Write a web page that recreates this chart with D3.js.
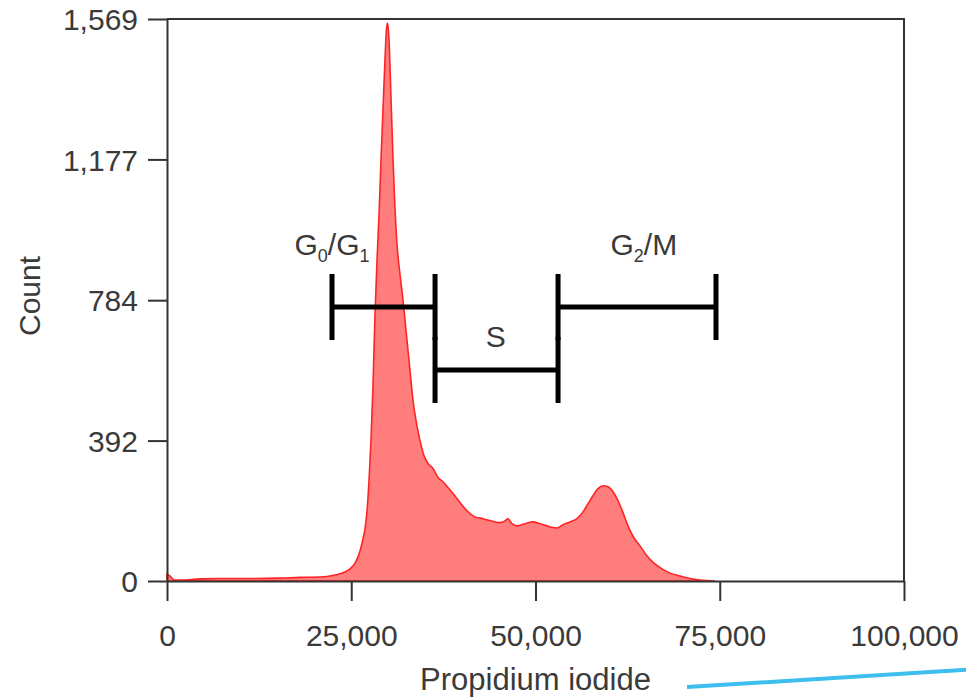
<!DOCTYPE html>
<html>
<head>
<meta charset="utf-8">
<script src="https://cdn.jsdelivr.net/npm/d3@7"></script>
<style>
    body { margin: 0; background: #fff; }
    svg { display: block; font-family: "Liberation Sans", Arial, sans-serif; }
</style>
</head>
<body>
<div id="histogram_container"></div>
<script>
// Propidium iodide channel (x) and event count (y)
const piValues = [0, 400, 950, 2440, 4480, 7190, 11260, 15330, 18050, 20760, 22800, 24150,
    24830, 25510, 26190, 26600, 26870, 27140, 27410, 27680, 27950, 28220, 28500, 28770,
    29040, 29310, 29580, 29780, 29920, 30120, 30400, 30670, 30940, 31210, 31620, 32020,
    32430, 32970, 33380, 33790, 34330, 34870, 35410, 36090, 36770, 37450, 38130, 38810,
    39760, 40710, 41790, 42880, 43960, 45180, 45860, 46270, 46810, 47490, 48580, 49660,
    50610, 51970, 52920, 53730, 54680, 55630, 56450, 57130, 57800, 58480, 59160, 59840,
    60520, 61200, 61870, 62550, 63370, 64180, 65130, 66080, 67170, 68250, 69610, 70970,
    72330, 74360];
const counts = [18, 14, 3, 3, 6, 7, 7, 8, 10, 11, 17, 25,
    34, 50, 84, 118, 146, 196, 280, 392, 546, 742, 897, 1023,
    1177, 1317, 1457, 1541, 1558, 1513, 1345, 1177, 1037, 939, 855, 785,
    700, 588, 504, 448, 392, 350, 328, 314, 289, 277, 261, 244,
    219, 196, 179, 174, 168, 163, 168, 174, 160, 154, 160, 165,
    160, 151, 148, 157, 165, 174, 193, 216, 238, 258, 266, 263,
    249, 224, 191, 154, 120, 98, 70, 50, 34, 22, 14, 7,
    3, 0];

const xTicks = [0, 25000, 50000, 75000, 100000];
const yTicks = [0, 392, 784, 1177, 1569];

// cell-cycle gates
const gateNames = ["G0/G1", "S", "G2/M"];
const gateStart = [22390, 36370, 53060];
const gateEnd = [36370, 53060, 74490];
const gateLevel = [765, 589, 765];
// where each gate label sits (x, y in data units)
const labelX = [22390, 44600, 64700];
const labelY = [910, 654, 910];

// the stray blue stroke at the bottom right, in data units
const strayLine = [[70560, -296], [109000, -247]];

const margin = { top: 19, right: 62, bottom: 118, left: 167 },
    width = 966 - margin.left - margin.right,
    height = 699 - margin.top - margin.bottom;

const svg = d3.select("#histogram_container")
    .append("svg")
    .attr("width", 966)
    .attr("height", 699)
    .append("g")
    .attr("transform", `translate(${margin.left}, ${margin.top})`);

const x = d3.scaleLinear().domain([0, 100000]).range([0, width]);
const y = d3.scaleLinear().domain([0, 1569]).range([height, 0]);

const data = piValues.map((v, i) => ({ pi: v, count: counts[i] }));

// histogram
svg.append("path")
    .datum(data)
    .attr("fill", "#ff7d7d")
    .attr("stroke", "#ff2424")
    .attr("stroke-width", 1.6)
    .attr("d", d3.area()
        .x(d => x(d.pi))
        .y0(y(0))
        .y1(d => y(d.count))
        .curve(d3.curveMonotoneX));

// frame: top and right
svg.append("path")
    .attr("fill", "none")
    .attr("stroke", "#333")
    .attr("stroke-width", 2)
    .attr("d", `M0,0H${width}V${height}`);

// X axis
const xAxis = svg.append("g")
    .attr("transform", `translate(0, ${height})`)
    .call(d3.axisBottom(x).tickValues(xTicks).tickFormat(d3.format(",")).tickSize(20).tickPadding(24).tickSizeOuter(0));

// Y axis
const yAxis = svg.append("g")
    .call(d3.axisLeft(y).tickValues(yTicks).tickFormat(d3.format(",")).tickSize(19).tickPadding(10).tickSizeOuter(0));

[xAxis, yAxis].forEach(a => {
    a.select(".domain").attr("stroke", "#333").attr("stroke-width", 2);
    a.selectAll(".tick line").attr("stroke", "#333").attr("stroke-width", 2);
    a.selectAll(".tick text")
        .attr("fill", "#3a3a3a")
        .style("font-size", "30px")
        .style("font-family", "'Liberation Sans', Arial, sans-serif");
});
yAxis.selectAll(".tick text").attr("dy", "0.36em");

// axis titles
svg.append("text")
    .attr("transform", `translate(${40 - margin.left}, ${296 - margin.top}) rotate(-90)`)
    .attr("text-anchor", "middle")
    .attr("fill", "#3a3a3a")
    .style("font-size", "30px")
    .text("Count");

svg.append("text")
    .attr("x", width / 2)
    .attr("y", 690 - margin.top)
    .attr("text-anchor", "middle")
    .attr("fill", "#3a3a3a")
    .style("font-size", "31px")
    .text("Propidium iodide");

// gates
const half = 33;
const gates = svg.append("g")
    .attr("stroke", "#000")
    .attr("stroke-width", 5)
    .attr("fill", "none");

gateNames.forEach((name, i) => {
    const x0 = x(gateStart[i]), x1 = x(gateEnd[i]), yy = y(gateLevel[i]);
    gates.append("path")
        .attr("d", `M${x0},${yy}H${x1}M${x0},${yy - half}V${yy + half}M${x1},${yy - half}V${yy + half}`);
});

// gate labels, with subscripts
const labels = svg.append("g")
    .attr("fill", "#3a3a3a")
    .style("font-size", "30px")
    .attr("text-anchor", "middle");

gateNames.forEach((name, i) => {
    const t = labels.append("text")
        .attr("x", x(labelX[i]))
        .attr("y", y(labelY[i]));
    const parts = name.split(/(\d)/);
    parts.forEach(p => {
        if (p === "") return;
        if (/\d/.test(p)) {
            t.append("tspan").attr("dy", 7).style("font-size", "18px").text(p);
        } else {
            const isAfterSub = t.selectAll("tspan").size() > 0 && /\d/.test(t.select("tspan:last-child").text());
            t.append("tspan").attr("dy", isAfterSub ? -7 : 0).text(p);
        }
    });
});

// stray blue stroke
svg.append("line")
    .attr("x1", x(strayLine[0][0]))
    .attr("y1", y(strayLine[0][1]))
    .attr("x2", x(strayLine[1][0]))
    .attr("y2", y(strayLine[1][1]))
    .attr("stroke", "#3cbfee")
    .attr("stroke-width", 4);
</script>
</body>
</html>
